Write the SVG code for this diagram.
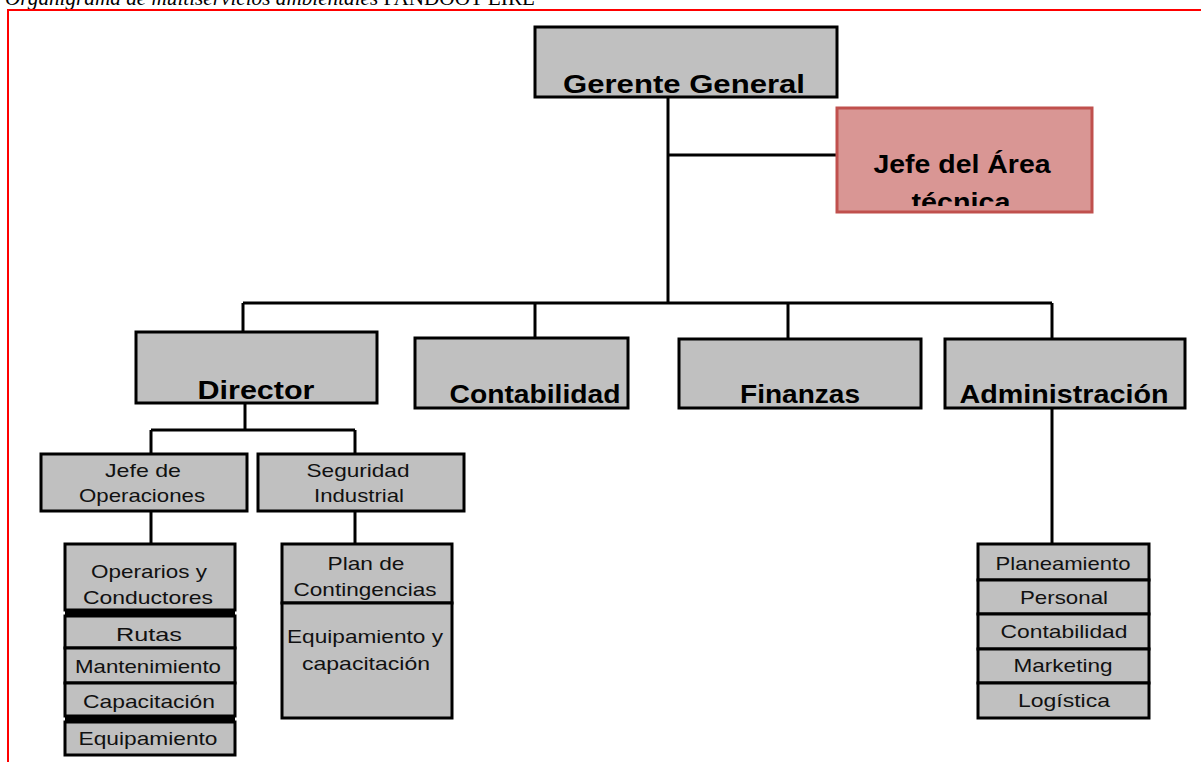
<svg xmlns="http://www.w3.org/2000/svg" width="1201" height="762" viewBox="0 0 1201 762">
<style>
.box{fill:#c0c0c0;stroke:#000;stroke-width:3}
.red{fill:#d99694;stroke:#c0504d;stroke-width:3}
.b{font-family:"Liberation Sans",Arial,sans-serif;font-weight:bold;font-size:25px;fill:#000;text-anchor:middle}
.n{font-family:"Liberation Sans",Arial,sans-serif;font-size:19px;fill:#111;text-anchor:middle}
.c{stroke:#000;stroke-width:3;fill:none}
</style>
<defs>
<clipPath id="jclip"><rect x="838" y="109" width="253" height="97"/></clipPath>
</defs>
<rect width="1201" height="762" fill="#fff"/>
<text x="5" y="5" font-family="'Liberation Serif',serif" font-size="21" fill="#000" textLength="530" lengthAdjust="spacingAndGlyphs"><tspan font-style="italic">Organigrama de multiservicios ambientales</tspan> PANDOOT EIRL</text>
<path d="M8,762 V10 H1201" fill="none" stroke="#ff0000" stroke-width="2"/>

<g id="connectors" class="c">
<path d="M668,97 V303"/>
<path d="M668,155 H837"/>
<path d="M243,303 H1052"/>
<path d="M243,303 V332"/>
<path d="M535,303 V338"/>
<path d="M788,303 V339"/>
<path d="M1052,303 V339"/>
<path d="M245,403 V430"/>
<path d="M151,430 H355"/>
<path d="M151,430 V454"/>
<path d="M355,430 V454"/>
<path d="M151,511 V544"/>
<path d="M355,511 V544"/>
<path d="M1052,408 V544"/>
</g>

<g id="gerente">
<rect class="box" x="535" y="27" width="302" height="70"/>
<text class="b" x="684" y="93" font-size="26" textLength="242" lengthAdjust="spacingAndGlyphs">Gerente General</text>
</g>

<g id="jefe-area">
<rect class="red" x="837" y="108" width="255" height="104"/>
<g clip-path="url(#jclip)">
<text class="b" x="962" y="173" font-size="24" textLength="177" lengthAdjust="spacingAndGlyphs">Jefe del Área</text>
<text class="b" x="961" y="211" font-size="24" textLength="99" lengthAdjust="spacingAndGlyphs">técnica</text>
</g>
</g>

<g id="director">
<rect class="box" x="136" y="332" width="241" height="71"/>
<text class="b" x="256" y="399" textLength="117" lengthAdjust="spacingAndGlyphs">Director</text>
</g>
<g id="contabilidad">
<rect class="box" x="415" y="338" width="213" height="70"/>
<text class="b" x="535" y="403" textLength="171" lengthAdjust="spacingAndGlyphs">Contabilidad</text>
</g>
<g id="finanzas">
<rect class="box" x="679" y="339" width="242" height="69"/>
<text class="b" x="800" y="403" textLength="120" lengthAdjust="spacingAndGlyphs">Finanzas</text>
</g>
<g id="administracion">
<rect class="box" x="945" y="339" width="240" height="69"/>
<text class="b" x="1064" y="403" textLength="209" lengthAdjust="spacingAndGlyphs">Administración</text>
</g>

<g id="jefe-operaciones">
<rect class="box" x="41" y="454" width="206" height="57"/>
<text class="n" x="143" y="477" textLength="76" lengthAdjust="spacingAndGlyphs">Jefe de</text>
<text class="n" x="142" y="502" textLength="126" lengthAdjust="spacingAndGlyphs">Operaciones</text>
</g>
<g id="seguridad-industrial">
<rect class="box" x="258" y="454" width="206" height="57"/>
<text class="n" x="358" y="477" textLength="103" lengthAdjust="spacingAndGlyphs">Seguridad</text>
<text class="n" x="359" y="502" textLength="90" lengthAdjust="spacingAndGlyphs">Industrial</text>
</g>

<g id="operaciones-stack">
<rect class="box" x="65" y="544" width="170" height="66"/>
<rect x="65" y="609" width="170" height="8" fill="#000"/>
<rect class="box" x="65" y="616" width="170" height="32"/>
<rect class="box" x="65" y="648" width="170" height="35"/>
<rect class="box" x="65" y="683" width="170" height="33"/>
<rect x="65" y="715" width="170" height="8" fill="#000"/>
<rect class="box" x="65" y="722" width="170" height="33"/>
<text class="n" x="149" y="578" textLength="116" lengthAdjust="spacingAndGlyphs">Operarios y</text>
<text class="n" x="148" y="604" textLength="130" lengthAdjust="spacingAndGlyphs">Conductores</text>
<text class="n" x="149" y="641" font-size="21" textLength="66" lengthAdjust="spacingAndGlyphs">Rutas</text>
<text class="n" x="148" y="673" textLength="146" lengthAdjust="spacingAndGlyphs">Mantenimiento</text>
<text class="n" x="149" y="708" textLength="132" lengthAdjust="spacingAndGlyphs">Capacitación</text>
<text class="n" x="148" y="745" textLength="139" lengthAdjust="spacingAndGlyphs">Equipamiento</text>
</g>

<g id="seguridad-stack">
<rect class="box" x="282" y="544" width="170" height="59"/>
<rect class="box" x="282" y="603" width="170" height="115"/>
<text class="n" x="366" y="570" textLength="77" lengthAdjust="spacingAndGlyphs">Plan de</text>
<text class="n" x="365" y="596" textLength="143" lengthAdjust="spacingAndGlyphs">Contingencias</text>
<text class="n" x="365" y="643" textLength="156" lengthAdjust="spacingAndGlyphs">Equipamiento y</text>
<text class="n" x="366" y="670" textLength="128" lengthAdjust="spacingAndGlyphs">capacitación</text>
</g>

<g id="administracion-stack">
<rect class="box" x="978" y="544" width="171" height="36"/>
<rect class="box" x="978" y="580" width="171" height="34"/>
<rect class="box" x="978" y="614" width="171" height="35"/>
<rect class="box" x="978" y="649" width="171" height="34"/>
<rect class="box" x="978" y="683" width="171" height="35"/>
<text class="n" x="1063" y="570" textLength="135" lengthAdjust="spacingAndGlyphs">Planeamiento</text>
<text class="n" x="1064" y="604" textLength="88" lengthAdjust="spacingAndGlyphs">Personal</text>
<text class="n" x="1064" y="638" textLength="127" lengthAdjust="spacingAndGlyphs">Contabilidad</text>
<text class="n" x="1063" y="672" textLength="99" lengthAdjust="spacingAndGlyphs">Marketing</text>
<text class="n" x="1064" y="707" textLength="92" lengthAdjust="spacingAndGlyphs">Logística</text>
</g>
</svg>
